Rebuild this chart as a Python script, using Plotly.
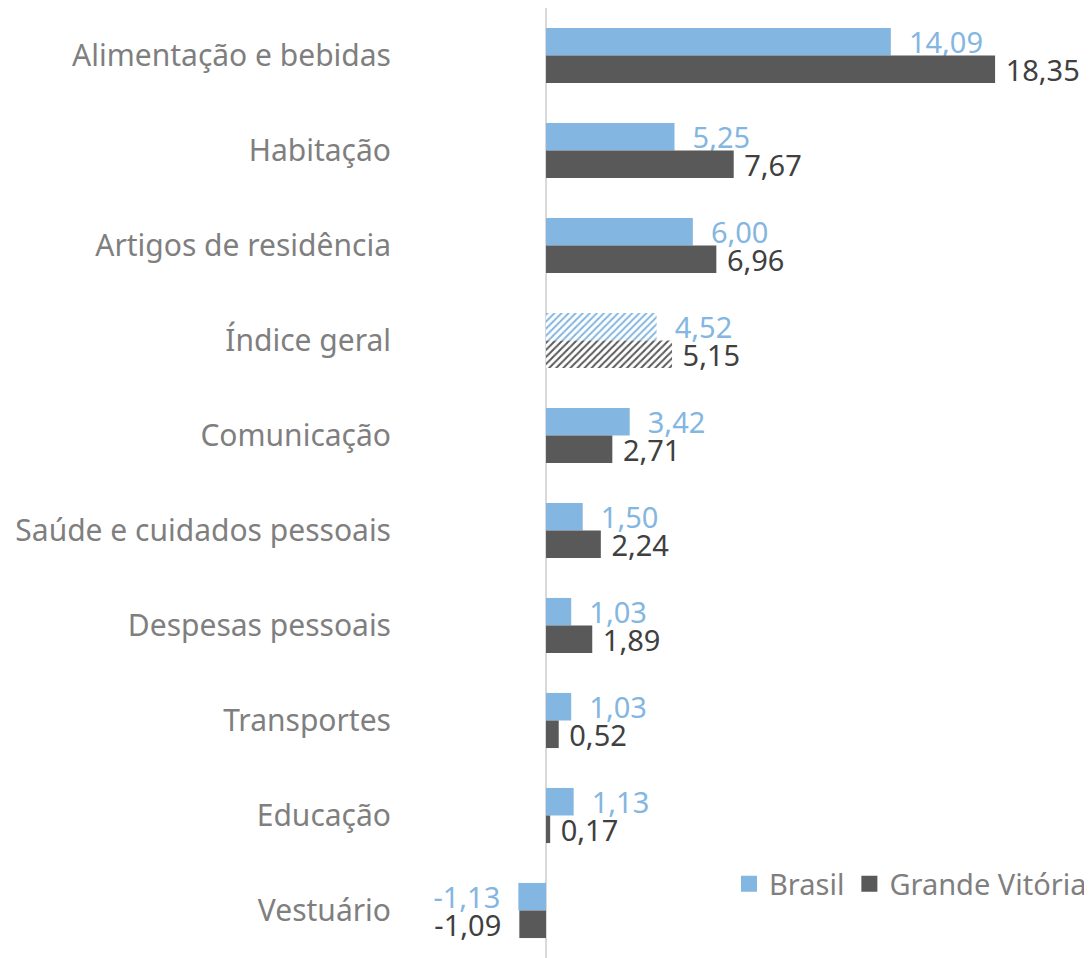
import plotly.graph_objects as go

categories = ["Alimentação e bebidas", "Habitação", "Artigos de residência", "Índice geral",
              "Comunicação", "Saúde e cuidados pessoais", "Despesas pessoais", "Transportes",
              "Educação", "Vestuário"]
brasil = [14.09, 5.25, 6.00, 4.52, 3.42, 1.50, 1.03, 1.03, 1.13, -1.13]
grande_vitoria = [18.35, 7.67, 6.96, 5.15, 2.71, 2.24, 1.89, 0.52, 0.17, -1.09]

BLUE = "#83B6E1"
DARK = "#595959"
FONT = "Noto Sans"
NB = "\u00a0"


def fmt(v, npad):
    s = f"{v:.2f}".replace(".", ",")
    if v < 0:
        return s + NB * 2
    return NB * npad + s


def make_trace(name, vals, color, txtcolor, npad):
    shapes = ["/" if c == "Índice geral" else "" for c in categories]
    return go.Bar(
        name=name, y=categories, x=vals, orientation="h", showlegend=False,
        marker=dict(color=color, line=dict(width=0),
                    pattern=dict(shape=shapes, fgcolor=color, bgcolor="white",
                                 size=5, solidity=0.4, fillmode="replace")),
        text=[fmt(v, npad) for v in vals], textposition="outside",
        textfont=dict(color=txtcolor, size=29, family=FONT),
        constraintext="none", cliponaxis=False,
    )


fig = go.Figure()
fig.add_trace(make_trace("Brasil", brasil, BLUE, BLUE, 2))
fig.add_trace(make_trace("Grande Vitória", grande_vitoria, DARK, "#404040", 1))

for name, color in [("Brasil", BLUE), ("Grande Vitória", DARK)]:
    fig.add_trace(go.Scatter(x=[None], y=[None], mode="markers", name=name,
                             marker=dict(symbol="square", size=20, color=color),
                             showlegend=True))

fig.update_layout(
    width=1084, height=950,
    margin=dict(l=392, r=0, t=0, b=0),
    paper_bgcolor="white", plot_bgcolor="white",
    barmode="group", bargap=0.42, bargroupgap=0,
    font=dict(family=FONT, size=30, color="#7f7f7f"),
    showlegend=True,
    legend=dict(orientation="h", x=1, xanchor="right", y=0.078, yanchor="middle",
                font=dict(size=29, color="#7f7f7f", family=FONT),
                bgcolor="rgba(0,0,0,0)", itemwidth=30, tracegroupgap=0),
    xaxis=dict(range=[-5.966, 22.31], showgrid=False, showticklabels=False,
               zeroline=True, zerolinecolor="#d9d9d9", zerolinewidth=2,
               showline=False, ticks=""),
    yaxis=dict(autorange="reversed", showgrid=False, showline=False, ticks="",
               tickfont=dict(size=30, color="#7f7f7f", family=FONT),
               ticklabelstandoff=8),
)

fig.write_html("out.html")
